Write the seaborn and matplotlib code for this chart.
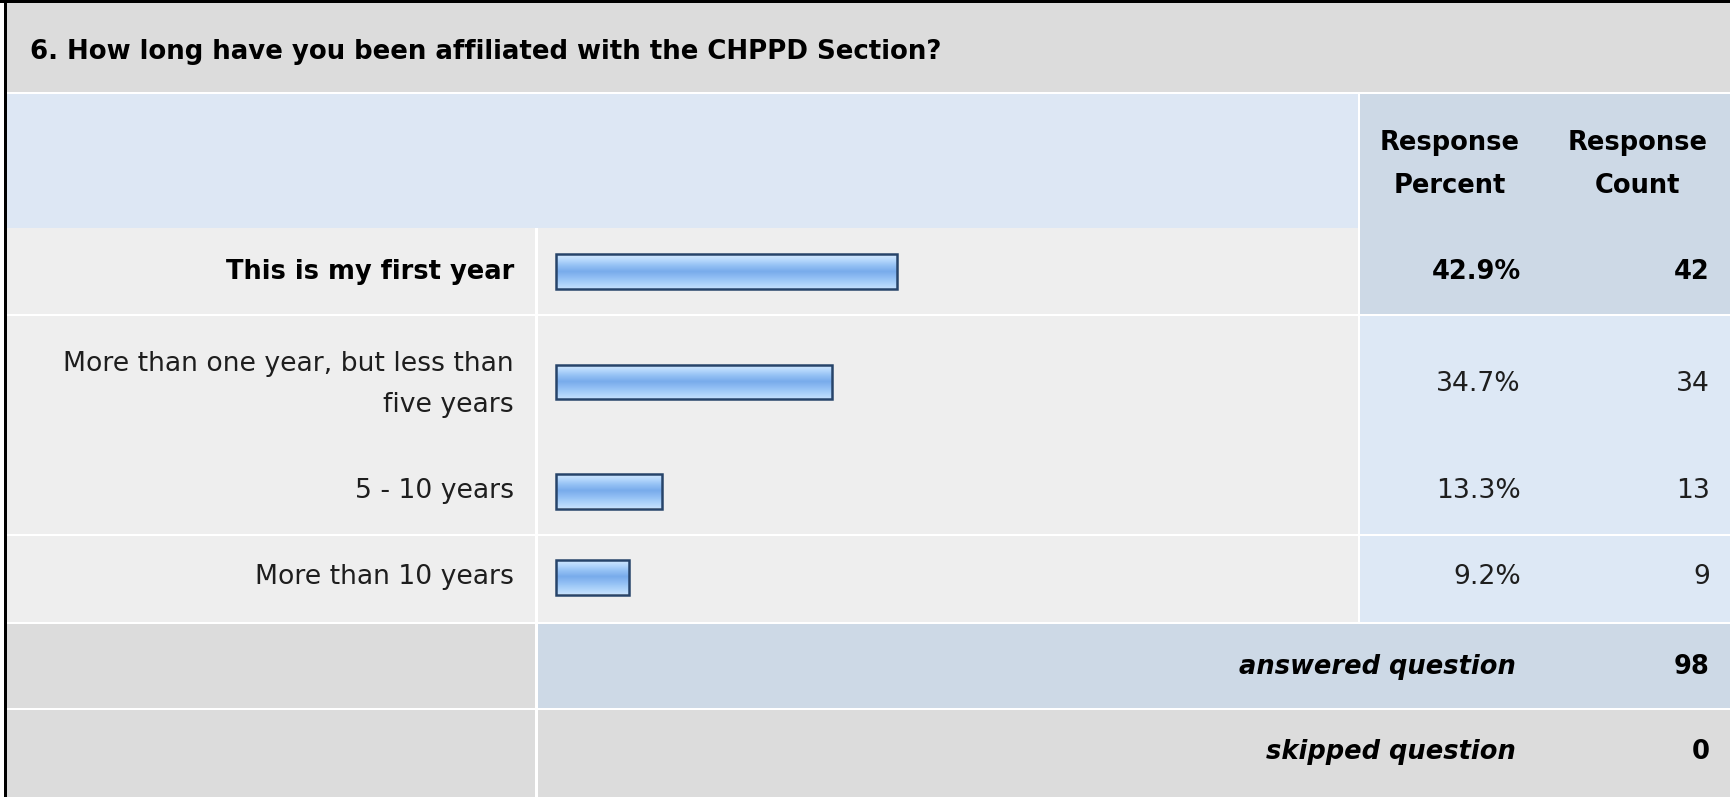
import numpy as np
import matplotlib
matplotlib.use("Agg")
import matplotlib.pyplot as plt
from matplotlib.patches import Rectangle
from matplotlib.colors import LinearSegmentedColormap
import seaborn as sns

# survey question data
question = "6. How long have you been affiliated with the CHPPD Section?"
answers = ["This is my first year",
           "More than one year, but less than\nfive years",
           "5 - 10 years",
           "More than 10 years"]
percents = [42.9, 34.7, 13.3, 9.2]
counts = [42, 34, 13, 9]
answered = 98
skipped = 0

W, H = 1731, 797
sns.set_theme(style="white")
plt.rcParams['font.family'] = ['DejaVu Sans']
plt.rcParams['text.color'] = 'black'

fig = plt.figure(figsize=(W / 100, H / 100), dpi=100)
fig.patch.set_facecolor("white")
ax = fig.add_axes([0, 0, 1, 1])
ax.set_xlim(0, W)
ax.set_ylim(H, 0)
ax.axis("off")


def cell(x0, y0, x1, y1, color):
    ax.add_patch(Rectangle((x0, y0), x1 - x0, y1 - y0, facecolor=color,
                           edgecolor="none", zorder=1))


def frac(x0, y0, x1, y1):
    return [x0 / W, 1 - y1 / H, (x1 - x0) / W, (y1 - y0) / H]


GRAY = "#dcdcdc"
ROW = "#eeeeee"
LBLUE = "#dde7f4"
DBLUE = "#cdd9e6"
BOLD_FS = 18.5
REG_FS = 19.2

# frame
cell(0, 0, W, 3, "black")
cell(4, 0, 7, H, "black")

# title + header
cell(7, 3, W, 92, GRAY)
cell(7, 94, 1358, 228, LBLUE)
cell(1360, 94, W, 228, DBLUE)
ax.text(30, 52, question, ha="left", va="center", fontsize=BOLD_FS + 0.2,
        fontweight="bold", color="black")
for xc, words in [(1450, ("Response", "Percent")), (1638, ("Response", "Count"))]:
    ax.text(xc, 143, words[0], ha="center", va="center", fontsize=BOLD_FS,
            fontweight="bold", color="black")
    ax.text(xc, 186, words[1], ha="center", va="center", fontsize=BOLD_FS,
            fontweight="bold", color="black")

# answer rows (second and third share one block, no rule between them)
row_bounds = [(228, 314), (316, 450), (450, 534), (536, 622)]
bar_centers = [271.5, 382, 491, 577]
text_centers = [272, 384, 491, 577]
best = int(np.argmax(counts))

for top, bot in [(228, 314), (316, 534), (536, 622)]:
    cell(7, top, 535, bot, ROW)
    cell(538, top, 1358, bot, ROW)
for i, (top, bot) in enumerate(row_bounds):
    cell(1360, top, W, bot, DBLUE if i == best else "#dde8f5")
cell(1360, 316, W, 534, "#dde8f5")

grad_cmap = LinearSegmentedColormap.from_list(
    "bar", ["#d8ebff", "#b6d8fc", "#93c0f4", "#78abeb", "#8fbdf3", "#a9d0f9", "#c4e0fd"])
grad = np.linspace(0, 1, 64).reshape(-1, 1)

for i in range(len(answers)):
    bold = i == best
    kw = dict(fontsize=BOLD_FS if bold else REG_FS,
              fontweight="bold" if bold else "normal",
              color="black" if bold else "#1e1e1e")
    ax.text(514, text_centers[i], answers[i], ha="right", va="center",
            linespacing=1.75, multialignment="right", **kw)
    ax.text(1521, text_centers[i], f"{percents[i]:.1f}%", ha="right", va="center", **kw)
    ax.text(1710, text_centers[i], f"{counts[i]}", ha="right", va="center", **kw)

    cy = bar_centers[i]
    bax = fig.add_axes(frac(556, cy - 17.5, 1352, cy + 17.5))
    sns.barplot(x=[percents[i]], y=[answers[i]], orient="h", width=1.0,
                color="#8fbcf2", edgecolor="#27446a", linewidth=1.8, ax=bax)
    patch = bax.patches[0]
    patch.set_clip_on(False)
    patch.set_facecolor("none")
    patch.set_zorder(3)
    im = bax.imshow(grad, extent=[0, percents[i], 0.5, -0.5], aspect="auto",
                    cmap=grad_cmap, zorder=2, interpolation="bilinear")
    im.set_clip_path(patch)
    bax.set_xlim(0, 100)
    bax.set_ylim(0.5, -0.5)
    bax.axis("off")
    bax.patch.set_alpha(0)

# summary rows
cell(7, 624, 535, 708, GRAY)
cell(538, 624, W, 708, DBLUE)
cell(7, 710, 535, H, GRAY)
cell(538, 710, W, H, GRAY)
ax.text(1516, 667, "answered question", ha="right", va="center", fontsize=BOLD_FS,
        fontweight="bold", style="italic", color="black")
ax.text(1710, 667, f"{answered}", ha="right", va="center", fontsize=BOLD_FS,
        fontweight="bold", color="black")
ax.text(1516, 752, "skipped question", ha="right", va="center", fontsize=BOLD_FS,
        fontweight="bold", style="italic", color="black")
ax.text(1710, 752, f"{skipped}", ha="right", va="center", fontsize=BOLD_FS,
        fontweight="bold", color="black")

fig.savefig("out.png", dpi=100)
